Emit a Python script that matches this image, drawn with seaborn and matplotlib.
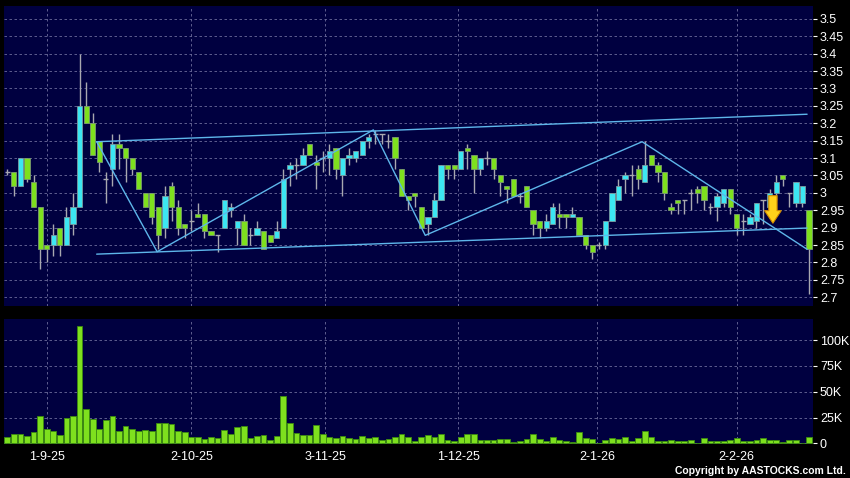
import matplotlib
matplotlib.use("Agg")
import matplotlib.pyplot as plt
import seaborn as sns
import numpy as np
import pandas as pd
from matplotlib.ticker import FuncFormatter, MultipleLocator

# --- data (one entry per trading day) ---
opens = [3.06, 3.06, 3.02, 3.10, 3.03, 2.96, 2.85, 2.85, 2.90, 2.85,
         2.91, 2.96, 3.25, 3.20, 3.15, 3.04, 3.07, 3.14, 3.13, 3.10,
         3.06, 3.00, 3.00, 2.96, 2.90, 3.02, 2.96, 2.91, 2.92, 2.94,
         2.94, 2.89, 2.88, 2.90, 2.95, 2.90, 2.92, 2.88, 2.88, 2.89,
         2.88, 2.87, 2.90, 3.07, 3.08, 3.08, 3.14, 3.09, 3.10, 3.10,
         3.13, 3.05, 3.10, 3.10, 3.11, 3.15, 3.17, 3.17, 3.15, 3.16,
         3.07, 2.99, 3.00, 2.96, 2.91, 2.93, 2.98, 3.08, 3.08, 3.07,
         3.13, 3.11, 3.07, 3.10, 3.10, 3.05, 3.02, 3.04, 2.99, 3.02,
         2.95, 2.92, 2.90, 2.91, 2.94, 2.94, 2.93, 2.93, 2.88, 2.85,
         2.85, 2.85, 2.92, 2.98, 3.04, 3.05, 3.07, 3.03, 3.11, 3.08,
         3.06, 2.96, 2.98, 2.98, 3.00, 3.01, 3.02, 2.96, 2.96, 2.97,
         3.01, 2.94, 2.92, 2.91, 2.92, 2.98, 2.96, 3.00, 3.05, 3.00,
         2.97, 2.97, 2.95]
highs = [3.07, 3.06, 3.10, 3.10, 3.05, 2.96, 2.85, 2.91, 2.90, 2.96,
         3.00, 3.40, 3.32, 3.23, 3.15, 3.06, 3.17, 3.17, 3.13, 3.10,
         3.06, 3.00, 3.00, 2.96, 3.02, 3.03, 2.98, 2.91, 2.95, 2.97,
         2.94, 2.89, 2.88, 2.98, 2.97, 2.92, 2.94, 2.90, 2.92, 2.89,
         2.88, 2.92, 3.07, 3.09, 3.10, 3.13, 3.14, 3.11, 3.12, 3.14,
         3.13, 3.10, 3.13, 3.12, 3.15, 3.17, 3.18, 3.17, 3.17, 3.16,
         3.07, 2.99, 3.00, 2.96, 2.93, 3.00, 3.08, 3.08, 3.08, 3.12,
         3.14, 3.11, 3.10, 3.12, 3.10, 3.05, 3.02, 3.04, 3.00, 3.02,
         2.95, 2.92, 2.94, 2.97, 2.97, 2.94, 2.96, 2.93, 2.88, 2.85,
         2.86, 2.92, 3.00, 3.04, 3.06, 3.08, 3.08, 3.15, 3.11, 3.09,
         3.06, 2.97, 2.98, 2.98, 3.01, 3.02, 3.02, 2.97, 3.00, 3.01,
         3.01, 2.94, 2.94, 2.94, 2.97, 2.98, 3.01, 3.05, 3.05, 3.00,
         3.03, 3.02, 2.95]
lows = [3.05, 2.99, 3.02, 3.03, 2.96, 2.78, 2.80, 2.82, 2.82, 2.85,
        2.88, 2.96, 3.20, 3.11, 3.06, 2.97, 3.02, 3.07, 3.03, 3.05,
        3.01, 2.96, 2.91, 2.84, 2.87, 2.92, 2.88, 2.87, 2.89, 2.93,
        2.87, 2.88, 2.83, 2.90, 2.93, 2.85, 2.85, 2.85, 2.88, 2.84,
        2.86, 2.87, 2.90, 3.02, 3.04, 3.08, 3.11, 3.01, 3.06, 3.05,
        3.04, 2.99, 3.08, 3.09, 3.11, 3.13, 3.14, 3.14, 3.13, 3.07,
        2.99, 2.95, 2.96, 2.90, 2.88, 2.93, 2.98, 3.04, 3.04, 3.07,
        3.07, 3.00, 3.05, 3.08, 3.04, 2.99, 2.97, 2.99, 2.97, 2.96,
        2.88, 2.87, 2.89, 2.91, 2.90, 2.90, 2.93, 2.88, 2.84, 2.81,
        2.84, 2.84, 2.92, 2.98, 3.00, 2.99, 3.01, 3.03, 3.08, 3.03,
        2.98, 2.94, 2.94, 2.94, 2.95, 2.97, 2.95, 2.94, 2.92, 2.96,
        2.94, 2.88, 2.88, 2.91, 2.90, 2.91, 2.93, 2.98, 3.02, 2.96,
        2.96, 2.96, 2.71]
closes = [3.06, 3.02, 3.10, 3.04, 2.96, 2.84, 2.84, 2.88, 2.85, 2.93,
          2.96, 3.25, 3.20, 3.11, 3.09, 3.04, 3.14, 3.13, 3.10, 3.07,
          3.01, 2.96, 2.93, 2.88, 2.99, 2.96, 2.90, 2.90, 2.92, 2.93,
          2.89, 2.88, 2.88, 2.98, 2.96, 2.92, 2.85, 2.88, 2.90, 2.84,
          2.86, 2.89, 3.04, 3.08, 3.08, 3.11, 3.11, 3.08, 3.10, 3.12,
          3.07, 3.10, 3.11, 3.12, 3.15, 3.16, 3.17, 3.17, 3.15, 3.10,
          2.99, 2.98, 2.99, 2.90, 2.93, 2.98, 3.08, 3.07, 3.07, 3.12,
          3.12, 3.07, 3.10, 3.10, 3.07, 3.03, 3.01, 2.99, 2.99, 2.96,
          2.91, 2.90, 2.92, 2.96, 2.93, 2.93, 2.94, 2.88, 2.85, 2.83,
          2.85, 2.92, 3.00, 3.02, 3.05, 3.05, 3.04, 3.08, 3.08, 3.06,
          3.00, 2.95, 2.97, 2.98, 3.00, 3.00, 2.98, 2.96, 2.99, 3.01,
          2.96, 2.90, 2.92, 2.93, 2.97, 2.98, 3.00, 3.03, 3.04, 3.00,
          3.03, 3.02, 2.84]
volume_k = [6.0, 8.9, 8.9, 7.6, 10.8, 26.9, 13.7, 12.1, 8.2, 24.4,
            26.6, 114.0, 33.7, 24.0, 14.0, 22.7, 26.3, 11.8, 17.3, 14.0,
            12.4, 13.1, 12.1, 20.2, 20.2, 19.2, 12.4, 11.5, 6.6, 6.6,
            4.0, 6.0, 5.0, 13.1, 8.9, 16.3, 16.6, 5.3, 7.6, 7.9,
            3.4, 7.6, 46.0, 19.5, 9.8, 8.2, 8.2, 18.2, 9.2, 6.3,
            5.3, 7.6, 5.0, 4.4, 7.6, 5.0, 6.0, 3.1, 4.7, 6.0,
            9.2, 6.0, 2.7, 6.3, 8.5, 6.2, 9.1, 3.6, 2.0, 6.2,
            8.9, 9.1, 3.8, 3.1, 3.1, 4.6, 4.5, 1.7, 2.7, 4.0,
            9.3, 4.0, 2.6, 6.0, 3.3, 2.3, 1.2, 11.4, 4.9, 4.0,
            0.3, 3.4, 5.0, 4.2, 6.2, 2.8, 5.5, 12.0, 6.0, 2.8,
            2.7, 3.6, 2.7, 2.7, 3.6, 0.7, 5.0, 2.8, 2.8, 2.5,
            3.6, 4.9, 2.8, 2.5, 3.3, 5.4, 3.4, 3.1, 1.2, 3.4,
            3.3, 0.2, 6.2]

date_labels = ['1-9-25', '2-10-25', '3-11-25', '1-12-25', '2-1-26', '2-2-26']
date_index = [6, 28, 48.4, 68.6, 89.8, 111]

# trend lines drawn on the chart (day index, price)
channel_x = [13.6, 121.7]
channel_top = [3.147, 3.226]
channel_bottom = [2.824, 2.899]
zigzag_x = [13.6, 22.8, 55.7, 63.6, 96.6, 121.7]
zigzag_y = [3.147, 2.831, 3.181, 2.878, 3.147, 2.838]

# sell signal arrow (day index, top price, tip price)
signal_x = 116.5
signal_top = 3.0
signal_tip = 2.905

df = pd.DataFrame({'open': opens, 'high': highs, 'low': lows,
                   'close': closes, 'vol': np.array(volume_k) * 1000})
df['day'] = np.arange(len(df))

# --- style ---
sns.set_style("dark")
plt.rcParams['font.family'] = ['Liberation Sans', 'DejaVu Sans']

NAVY = '#000040'
CYAN = '#3ce6f2'
GREEN = '#7ee01e'
WICK = '#a8a8b0'
GRID = '#6c6c9c'
LINE = '#5eb6ea'

fig = plt.figure(figsize=(8.5, 4.78), dpi=100, facecolor='black')
W, H = 850, 478
ax1 = fig.add_axes([4 / W, 1 - 306 / H, 809 / W, 300 / H])
ax2 = fig.add_axes([4 / W, 1 - 444 / H, 809 / W, 125 / H])

for ax in (ax1, ax2):
    ax.set_facecolor(NAVY)
    for s in ax.spines.values():
        s.set_visible(False)
    ax.grid(True, color=GRID, linestyle=(0, (3, 3)), linewidth=0.6)
    ax.yaxis.tick_right()
    ax.tick_params(axis='y', colors='white', labelsize=9, length=3,
                   width=0.8, pad=2, labelcolor='white')
    ax.set_xlim(-0.5, 122.6)
    ax.set_xticks(date_index)

# --- candles ---
up = df['close'] > df['open']
down = df['close'] < df['open']
flat = df['close'] == df['open']
ax1.vlines(df['day'], df['low'], df['high'], color=WICK, linewidth=1, zorder=2)
body = (df['close'] - df['open']).abs()
bottom = df[['open', 'close']].min(axis=1)
ax1.bar(df['day'][up], body[up], bottom=bottom[up], width=0.8,
        color=CYAN, edgecolor='#7a9aa0', linewidth=0.6, zorder=3)
ax1.bar(df['day'][down], body[down], bottom=bottom[down], width=0.8,
        color=GREEN, edgecolor='#7a9a70', linewidth=0.6, zorder=3)
ax1.hlines(df['close'][flat], df['day'][flat] - 0.4, df['day'][flat] + 0.4,
           color=WICK, linewidth=1, zorder=3)

# trend lines
sns.lineplot(x=channel_x, y=channel_top, ax=ax1, color=LINE, linewidth=1, zorder=4)
sns.lineplot(x=channel_x, y=channel_bottom, ax=ax1, color=LINE, linewidth=1, zorder=4)
sns.lineplot(x=zigzag_x, y=zigzag_y, ax=ax1, color=LINE, linewidth=1,
             sort=False, estimator=None, zorder=4)

ax1.annotate('', xy=(signal_x, signal_tip), xytext=(signal_x, signal_top),
             arrowprops=dict(arrowstyle='simple,head_width=1.2,head_length=0.9,tail_width=0.6',
                             fc='#ffd21a', ec='#d08a00', lw=0.8), zorder=5)

ax1.set_ylim(2.675, 3.537)
ax1.yaxis.set_major_locator(MultipleLocator(0.05))
ax1.yaxis.set_major_formatter(FuncFormatter(lambda v, p: f'{v:.2f}'.rstrip('0').rstrip('.')))
ax1.tick_params(axis='x', length=0, labelbottom=False)
ax1.set_xlabel('')
ax1.set_ylabel('')

# --- volume ---
sns.barplot(data=df, x='day', y='vol', ax=ax2, native_scale=True, width=0.88,
            color=GREEN, saturation=1, edgecolor='#3c8c10', linewidth=0.6, zorder=3)
ax2.set_ylim(-500, 120300)
ax2.set_xlim(-0.5, 122.6)
ax2.yaxis.set_major_locator(MultipleLocator(25000))
ax2.yaxis.set_major_formatter(FuncFormatter(lambda v, p: '0' if v == 0 else f'{int(v / 1000)}K'))
ax2.set_xticks(date_index)
ax2.set_xticklabels(date_labels)
ax2.tick_params(axis='x', colors='#a0a0a0', labelcolor='white', labelsize=9,
                length=3, width=0.8, pad=2)
ax2.set_xlabel('')
ax2.set_ylabel('')

fig.text(846 / W, 1 - 471 / H, 'Copyright by AASTOCKS.com Ltd.', color='white',
         fontsize=7.5, fontweight='bold', ha='right', va='center')

fig.savefig('out.png', dpi=100, facecolor='black')
